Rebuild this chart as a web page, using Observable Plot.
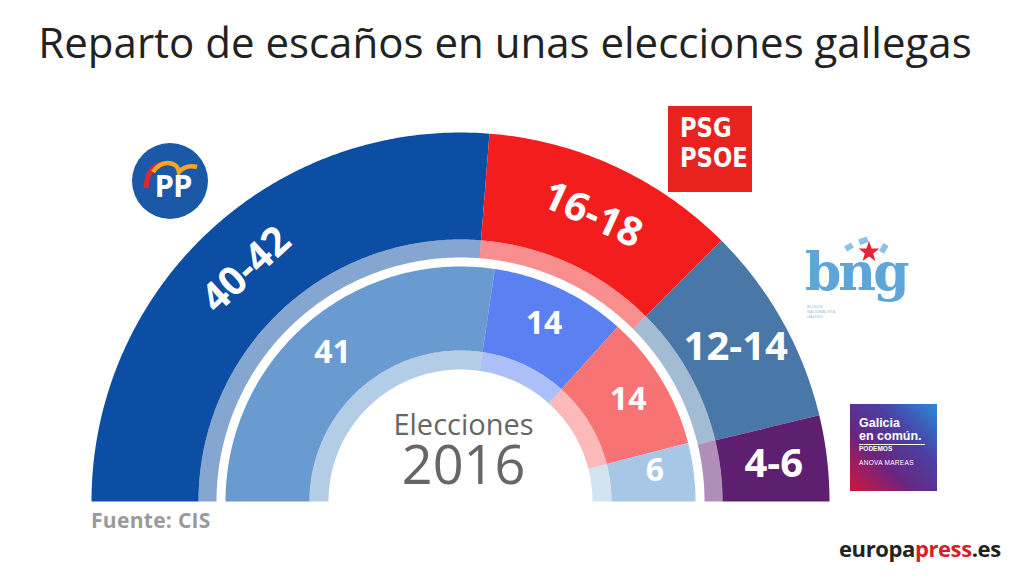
<!DOCTYPE html>
<html>
<head>
<meta charset="utf-8">
<script src="https://cdn.jsdelivr.net/npm/d3@7"></script>
<script src="https://cdn.jsdelivr.net/npm/@observablehq/plot@0.6"></script>
<style>
  html, body { margin: 0; padding: 0; background: #fff; }
  body { width: 1024px; height: 576px; position: relative; overflow: hidden; font-family: "Open Sans", sans-serif; }
  #title { position: absolute; left: 0; width: 1010px; top: 17px; text-align: center; font-size: 42px; color: #222; line-height: 1.2; white-space: nowrap; }
  #chart { position: absolute; left: 0; top: 90px; }
  .abs { position: absolute; }
  #fuente { left: 91px; top: 505px; font-size: 21px; font-weight: bold; color: #9a9a9a; letter-spacing: 0.3px; line-height: 30px; }
  #ep { left: 839px; top: 533px; font-size: 22px; font-weight: bold; color: #222; letter-spacing: -0.4px; }
  #ep span { color: #d42027; }
  #psoe { left: 668px; top: 106px; width: 84px; height: 86px; background: #e8231f; }
  #psoe div { position: absolute; left: 12px; color: #fff; font-family: "DejaVu Sans"; font-weight: bold; font-size: 27px; line-height: 30px; transform: scaleX(0.84); transform-origin: left center; white-space: nowrap; }
  #bng { left: 805px; top: 232px; width: 100px; height: 100px; }
  #bng .word { position: absolute; left: 0; top: 14px; font-family: "DejaVu Serif"; font-weight: bold; font-size: 52px; color: #5ea6da; letter-spacing: -3px; line-height: 1; }
  #bng svg { position: absolute; left: 0; top: 0; }
  #bng .small { position: absolute; left: 2px; top: 72px; font-size: 4px; line-height: 5px; color: #8fb5d2; }
  #gec { left: 850px; top: 404px; width: 87px; height: 87px; background: linear-gradient(45deg, #d2163b 0%, #6a2580 35%, #4a3fa2 65%, #2a8ad8 100%); color: #fff; box-sizing: border-box; padding: 13px 0 0 9px; font-family: "Liberation Sans", Arial; }
  #gec .g1 { font-size: 12.5px; font-weight: bold; line-height: 13px; }
  #gec .g2 { font-size: 6.5px; font-weight: bold; line-height: 8px; border-top: 1.5px solid #fff; width: 66px; margin-top: 1px; }
  #gec .g3 { font-size: 6.5px; line-height: 8px; margin-top: 6px; letter-spacing: 0.3px; }
</style>
</head>
<body>
<div id="title">Reparto de escaños en unas elecciones gallegas</div>
<div id="chart"></div>

<svg class="abs" style="left:131px;top:142px" width="80" height="80">
  <circle cx="39" cy="39" r="38" fill="#1b58a8"/>
  <path d="M15 46 Q16 24 33 22" stroke="#e4262b" stroke-width="5" fill="none"/>
  <path d="M22 30 Q30 18 42 22 Q47 24 48 30 Q55 22 66 25" stroke="#f4a521" stroke-width="4.5" fill="none"/>
  <text x="42" y="55" font-size="31" font-weight="bold" fill="#fff" text-anchor="middle" font-family="Open Sans" letter-spacing="-1">PP</text>
</svg>
<div id="psoe" class="abs"><div style="top:7px">PSG</div><div style="top:37px">PSOE</div></div>
<div id="bng" class="abs">
  <svg width="100" height="40">
    <rect x="40" y="12" width="8" height="6" fill="#8fc1e6" transform="rotate(-30 44 15)"/>
    <rect x="54" y="6" width="9" height="6" fill="#8fc1e6" transform="rotate(-20 58 9)"/>
    <polygon points="64,9 66.6,16.4 74.4,16.6 68.2,21.4 70.4,28.9 64,24.5 57.6,28.9 59.8,21.4 53.6,16.6 61.4,16.4" fill="#e3243b"/>
    <rect x="76" y="12" width="6" height="9" fill="#8fc1e6" transform="rotate(30 79 16)"/>
  </svg>
  <div class="word">bng</div>
  <div class="small">BLOQUE<br>NACIONALISTA<br>GALEGO</div>
</div>
<div id="gec" class="abs">
  <div class="g1">Galicia<br>en común.</div>
  <div class="g2">PODEMOS</div>
  <div class="g3">ANOVA MAREAS</div>
</div>
<div id="fuente" class="abs">Fuente: CIS</div>
<div id="ep" class="abs">europa<span>press</span>.es</div>

<script>
// ---- Data ----
// Encuesta CIS (outer ring): seat ranges per party
const outerParties = ["PP", "PSdeG-PSOE", "BNG", "Galicia en Común"];
const outerLow = [40, 16, 12, 4];
const outerHigh = [42, 18, 14, 6];
const outerColors = ["#0b4ea3", "#f41d1d", "#4877a8", "#5f1f70"];

// Elecciones 2016 (inner ring)
const pastParties = ["PP", "En Marea", "PSdeG-PSOE", "BNG"];
const pastSeats = [41, 14, 14, 6];
const pastColors = ["#6a9bd0", "#5b80f2", "#f87474", "#a8c7e6"];

// ---- Geometry (radii in px) ----
const R = {outer: 369, outerBand: 262, outerIn: 244, innerOut: 235, innerBand: 151, innerIn: 132};

function segments(values, colors, labels, tag) {
  const total = d3.sum(values);
  let acc = 0;
  return values.map((v, i) => {
    const f0 = acc / total; acc += v; const f1 = acc / total;
    return {id: tag + i, f0, f1, fm: (f0 + f1) / 2, color: colors[i], label: labels[i]};
  });
}
const ang = f => Math.PI * (1 - f);

function arcPoly(segs, r0, r1) {
  const pts = [];
  for (const s of segs) {
    const n = Math.max(2, Math.ceil((s.f1 - s.f0) * 360));
    for (let k = 0; k <= n; k++) {
      const a = ang(s.f0 + (s.f1 - s.f0) * k / n);
      pts.push({id: s.id, color: s.color, x: r1 * Math.cos(a), y: r1 * Math.sin(a)});
    }
    for (let k = n; k >= 0; k--) {
      const a = ang(s.f0 + (s.f1 - s.f0) * k / n);
      pts.push({id: s.id, color: s.color, x: r0 * Math.cos(a), y: r0 * Math.sin(a)});
    }
  }
  return pts;
}

const outerSegs = segments(outerHigh, outerColors, outerLow.map((l, i) => `${l}-${outerHigh[i]}`), "o");
const innerSegs = segments(pastSeats, pastColors, pastSeats.map(String), "i");

const polyOpts = {x: "x", y: "y", z: "id", fill: "color", stroke: "none", curve: "linear-closed"};
const lblR = (R.outer + R.outerBand) / 2;
const lblRi = 196;

const chart = Plot.plot({
  width: 1024,
  height: 486,
  margin: 0,
  x: {domain: [-460, 564], axis: null},
  y: {domain: [-75, 411], axis: null},
  color: {type: "identity"},
  style: {background: "transparent", overflow: "visible"},
  marks: [
    Plot.line(arcPoly(outerSegs, R.outerBand, R.outer), polyOpts),
    Plot.line(arcPoly(outerSegs, R.outerIn, R.outerBand), {...polyOpts, fillOpacity: 0.5}),
    Plot.line(arcPoly(innerSegs, R.innerBand, R.innerOut), polyOpts),
    Plot.line(arcPoly(innerSegs, R.innerIn, R.innerBand), {...polyOpts, fillOpacity: 0.5}),
    Plot.text(outerSegs, {
      x: d => lblR * Math.cos(ang(d.fm)), y: d => lblR * Math.sin(ang(d.fm)),
      text: "label", rotate: d => d.fm < 0.7 ? 180 * d.fm - 90 : 0,
      fill: "white", fontSize: 40, fontWeight: "bold", fontFamily: "Open Sans"
    }),
    Plot.text(innerSegs, {
      x: d => lblRi * Math.cos(ang(d.fm)), y: d => lblRi * Math.sin(ang(d.fm)) + (d.fm > 0.9 ? 6 : 0),
      text: "label", fill: "white", fontSize: 32, fontWeight: "bold", fontFamily: "Open Sans"
    }),
    Plot.text(["Elecciones"], {x: () => 3, y: () => 76, text: d => d, fill: "#666", fontSize: 29, fontFamily: "Open Sans"}),
    Plot.text(["2016"], {x: () => 3, y: () => 35, text: d => d, fill: "#666", fontSize: 54, fontFamily: "Open Sans"})
  ]
});
document.getElementById("chart").appendChild(chart);
</script>
</body>
</html>
